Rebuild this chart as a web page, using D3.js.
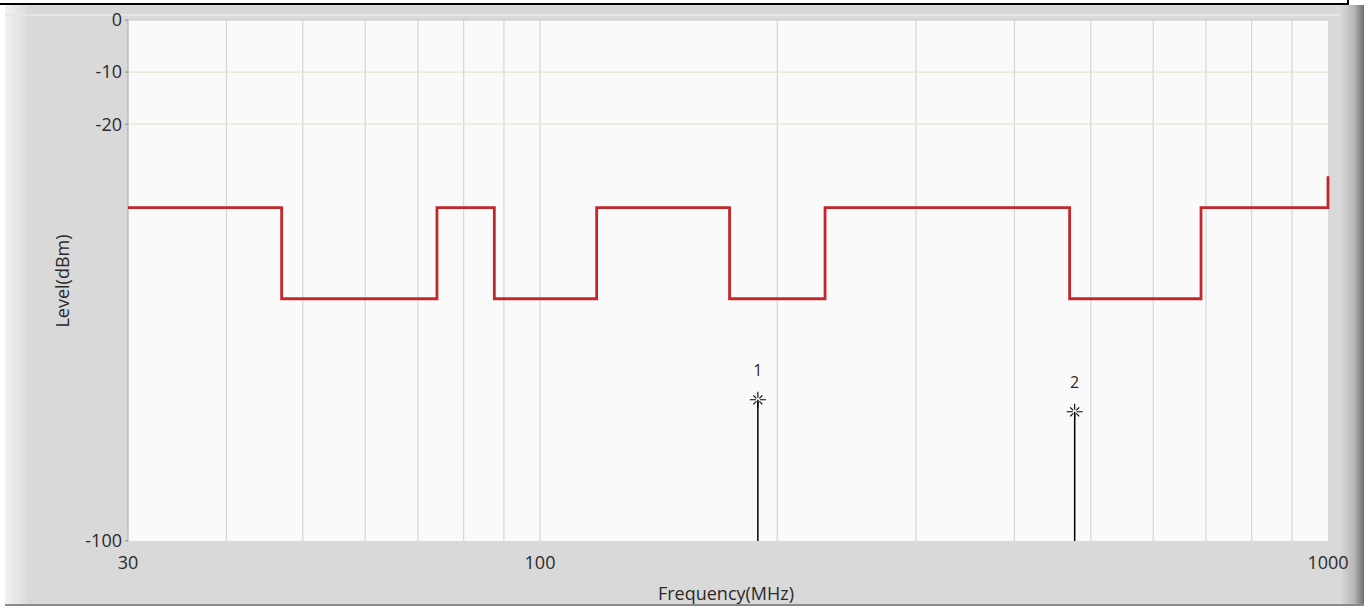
<!DOCTYPE html>
<html>
<head>
<meta charset="utf-8">
<script src="https://cdn.jsdelivr.net/npm/d3@7"></script>
<style>
  html, body { margin: 0; padding: 0; background: #fff; }
  svg { display: block; }
</style>
</head>
<body>
<div id="chart"></div>
<script>
// limit mask: step edges (MHz) and levels (dBm)
const stepFreqs = [30, 47, 74, 87.5, 118, 174, 230, 470, 690, 1000];
const stepLevels = [-36, -53.5, -36, -53.5, -36, -53.5, -36, -53.5, -36];
const endLevel = -30;

// markers
const markerIds = ['1', '2'];
const markerFreqs = [189, 477];
const markerLevels = [-72.9, -75.2];

const yTicks = [0, -10, -20, -100];
const yGrid = [-10, -20];
const xTicks = [30, 100, 1000];
const xGrid = [40, 50, 60, 70, 80, 90, 100, 200, 300, 400, 500, 600, 700, 800, 900];

const W = 1370, H = 608;
const plotL = 128, plotR = 1328, plotT = 20, plotB = 541;
const fs = 18;

const svg = d3.select('#chart').append('svg')
    .attr('width', W)
    .attr('height', H)
    .style('font-family', '"Open Sans", "DejaVu Sans", sans-serif');

const defs = svg.append('defs');
const gr = defs.append('linearGradient').attr('id', 'rshade').attr('x1', 0).attr('x2', 1);
gr.append('stop').attr('offset', '0%').attr('stop-color', '#dadada');
gr.append('stop').attr('offset', '60%').attr('stop-color', '#b5b5b5');
gr.append('stop').attr('offset', '100%').attr('stop-color', '#6e6e6e');
const gl = defs.append('linearGradient').attr('id', 'lshade').attr('x1', 0).attr('x2', 1);
gl.append('stop').attr('offset', '0%').attr('stop-color', '#f2f2f2');
gl.append('stop').attr('offset', '100%').attr('stop-color', '#dcdcdc');

// panel
svg.append('rect').attr('x', 5).attr('y', 5).attr('width', 1340).attr('height', 600).attr('fill', '#d9d9d9');
svg.append('rect').attr('x', 5).attr('y', 5).attr('width', 22).attr('height', 600).attr('fill', 'url(#lshade)');
svg.append('rect').attr('x', 1340).attr('y', 5).attr('width', 24).attr('height', 601).attr('fill', 'url(#rshade)');
svg.append('rect').attr('x', 5).attr('y', 604).attr('width', 1359).attr('height', 2).attr('fill', '#8a8a8a');
// frame above
svg.append('line').attr('x1', 0).attr('x2', 1348).attr('y1', 4).attr('y2', 4).attr('stroke', '#000').attr('stroke-width', 2);
svg.append('line').attr('x1', 1348).attr('x2', 1348).attr('y1', 0).attr('y2', 5).attr('stroke', '#000').attr('stroke-width', 2);
svg.append('line').attr('x1', 5).attr('x2', 1340).attr('y1', 15).attr('y2', 15).attr('stroke', '#e6e6e6').attr('stroke-width', 2);

const x = d3.scaleLog().domain([30, 1000]).range([plotL, plotR]);
const y = d3.scaleLinear().domain([-100, 0]).range([plotB, plotT]);

// plot area
svg.append('rect')
    .attr('x', plotL).attr('y', plotT)
    .attr('width', plotR - plotL).attr('height', plotB - plotT)
    .attr('fill', '#fafafa');

// grid
svg.append('g')
    .attr('stroke', '#d6d6d6').attr('stroke-width', 1.2)
  .selectAll('line').data(xGrid).join('line')
    .attr('x1', d => x(d)).attr('x2', d => x(d))
    .attr('y1', plotT).attr('y2', plotB);
svg.append('g')
    .attr('stroke', '#e6e3d6').attr('stroke-width', 1.2)
  .selectAll('line').data(yGrid).join('line')
    .attr('x1', plotL).attr('x2', plotR)
    .attr('y1', d => y(d)).attr('y2', d => y(d));

// plot border
svg.append('line').attr('x1', plotL).attr('x2', plotL).attr('y1', plotT).attr('y2', plotB).attr('stroke', '#a8a8a8');
svg.append('line').attr('x1', plotL).attr('x2', plotR).attr('y1', plotT).attr('y2', plotT).attr('stroke', '#c8c8c8');

// y ticks
svg.append('g').selectAll('text').data(yTicks).join('text')
    .attr('x', plotL - 6).attr('y', d => y(d)).attr('dy', '0.35em')
    .attr('text-anchor', 'end').attr('font-size', fs).attr('fill', '#2a2a2a')
    .text(d => d);
svg.append('g').attr('stroke', '#888').selectAll('line').data(yTicks).join('line')
    .attr('x1', plotL - 3).attr('x2', plotL).attr('y1', d => y(d)).attr('y2', d => y(d));

// x ticks
svg.append('g').selectAll('text').data(xTicks).join('text')
    .attr('x', d => x(d)).attr('y', 563).attr('dy', '0.35em')
    .attr('text-anchor', 'middle').attr('font-size', fs).attr('fill', '#2a2a2a')
    .text(d => d);

// axis titles
svg.append('text')
    .attr('transform', `translate(63,281) rotate(-90)`)
    .attr('text-anchor', 'middle').attr('dy', '0.35em')
    .attr('font-size', fs).attr('fill', '#2a2a2a')
    .text('Level(dBm)');
svg.append('text')
    .attr('x', 726).attr('y', 594).attr('dy', '0.35em')
    .attr('text-anchor', 'middle').attr('font-size', fs).attr('fill', '#2a2a2a')
    .text('Frequency(MHz)');

// step line
const pts = [];
stepLevels.forEach((lv, i) => {
  pts.push([stepFreqs[i], lv]);
  pts.push([stepFreqs[i + 1], lv]);
});
pts.push([1000, endLevel]);
const line = d3.line().x(d => x(d[0])).y(d => y(d[1]));
svg.append('path')
    .attr('d', line(pts))
    .attr('fill', 'none')
    .attr('stroke', '#c1272d')
    .attr('stroke-width', 2.8);

// markers
const markers = markerIds.map((id, i) => ({ id, f: markerFreqs[i], lv: markerLevels[i] }));
const mg = svg.append('g').selectAll('g').data(markers).join('g')
    .attr('transform', d => `translate(${x(d.f)},0)`);
mg.append('line')
    .attr('x1', 0).attr('x2', 0)
    .attr('y1', d => y(d.lv)).attr('y2', plotB)
    .attr('stroke', '#000').attr('stroke-width', 1.5);
mg.append('path')
    .attr('transform', d => `translate(0,${y(d.lv)})`)
    .attr('d', 'M-8,0H-2M2,0H8M0,-8V-2M0,2V8M-4.5,-4.5L-1.5,-1.5M4.5,-4.5L1.5,-1.5M-4.5,4.5L-1.5,1.5M4.5,4.5L1.5,1.5')
    .attr('stroke', '#000').attr('stroke-width', 1.1).attr('fill', 'none');
mg.append('text')
    .attr('y', d => y(d.lv) - 29).attr('dy', '0.35em')
    .attr('text-anchor', 'middle').attr('font-size', 16).attr('fill', '#2a2a2a')
    .text(d => d.id);
</script>
</body>
</html>
